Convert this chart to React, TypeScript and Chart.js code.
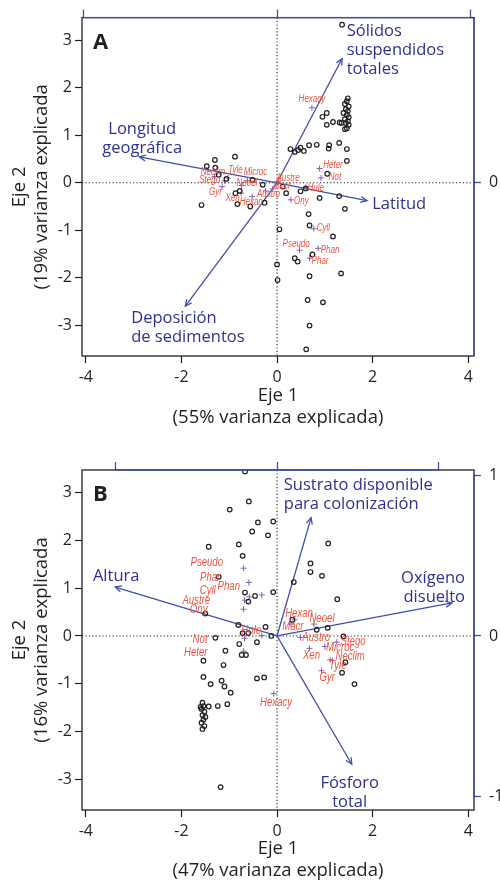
import React, { useEffect, useRef } from 'react';
import { Chart, registerables } from 'chart.js';

Chart.register(...registerables);

// ---------------- DATA ----------------
// Main axes ranges (site / species scores)
const X_RANGE: [number, number] = [-4.08, 4.12];
const Y_RANGE: [number, number] = [-3.65, 3.48];
const X_STEP = 2;
const Y_STEP = 1;

// Panel A – sites (black circles)
const sitesA: [number, number][] = [
  [1.36, 3.33], [0.95, 1.39], [1.04, 1.47], [1.04, 1.22], [1.17, 1.28], [1.31, 1.27],
  [1.48, 1.78], [1.46, 1.72], [1.42, 1.66], [1.5, 1.61], [1.44, 1.55], [1.48, 1.51], [1.39, 1.47],
  [1.46, 1.43], [1.5, 1.38], [1.42, 1.34], [1.48, 1.3], [1.44, 1.26], [1.5, 1.22], [1.46, 1.15],
  [1.35, 1.26], [1.42, 1.13],
  [0.28, 0.71], [0.37, 0.65], [0.44, 0.69], [0.49, 0.74], [0.56, 0.67], [0.67, 0.79], [0.83, 0.8],
  [1.09, 0.79], [1.08, 0.72], [1.3, 0.84], [1.46, 0.71], [1.46, 0.46], [1.05, 0.19],
  [-1.3, 0.48], [-0.88, 0.55], [-1.47, 0.35], [-1.29, 0.32], [-1.22, 0.17], [-1.06, 0.08],
  [-0.51, 0.06], [-0.3, -0.04], [-0.78, -0.17], [-0.87, -0.22], [-0.83, -0.45], [-0.56, -0.5],
  [-0.26, -0.42], [-1.58, -0.47],
  [0.12, -0.08], [0.19, -0.22], [0.49, -0.18], [0.6, -0.12], [0.89, -0.32], [1.3, -0.28],
  [1.42, -0.55], [0.66, -0.66], [0.05, -0.98], [0.68, -0.9], [1.17, -1.13], [0.37, -1.59],
  [0.43, -1.66], [0.74, -1.51], [0.0, -1.72], [0.01, -2.05], [0.68, -1.97], [1.34, -1.91],
  [0.64, -2.47], [0.96, -2.52], [0.68, -3.01], [0.61, -3.51],
];

// Panel A – species (purple crosses) and their label anchors
const speciesNamesA = ['Heter', 'Not', 'Hule', 'Ony', 'Cyll', 'Pseudo', 'Phan', 'Phar', 'Austre', 'Macr',
  'Austro', 'Neoel', 'Tyle', 'Microc', 'Neclim', 'Stego', 'Gyr', 'Xen', 'Hexan', 'Hexacy'];
const speciesPosA: [number, number][] = [
  [0.89, 0.3], [0.92, 0.1], [0.6, -0.1], [0.29, -0.36], [0.77, -0.97], [0.47, -1.42], [0.86, -1.38],
  [0.68, -1.59], [0.03, 0.02], [-0.09, -0.13], [-0.24, -0.17], [-0.74, -0.06], [-1.03, 0.1],
  [-0.62, 0.04], [-1.31, 0.13], [-1.1, 0.04], [-1.15, -0.08], [-0.75, -0.22], [-0.52, -0.29], [0.73, 1.58],
];
const speciesLabelPosA: [number, number][] = [
  [1.17, 0.37], [1.21, 0.11], [0.81, -0.12], [0.51, -0.39], [0.97, -0.96], [0.4, -1.29], [1.11, -1.43],
  [0.9, -1.66], [0.23, 0.1], [0.1, -0.08], [-0.18, -0.25], [-0.63, -0.01], [-0.87, 0.27],
  [-0.45, 0.22], [-1.34, 0.22], [-1.41, 0.06], [-1.29, -0.2], [-0.93, -0.32], [-0.54, -0.41], [0.73, 1.76],
];

// Panel A – environmental vectors (loading units, top/right axes)
const arrowLabelsA: string[][] = [
  ['Sólidos', 'suspendidos', 'totales'],
  ['Longitud', 'geográfica'],
  ['Latitud'],
  ['Deposición', 'de sedimentos'],
];
const arrowEndsA: [number, number][] = [[0.336, 0.646], [-0.712, 0.135], [0.465, -0.093], [-0.474, -0.642]];
const arrowLabelPosA: [number, number][] = [[0.36, 0.791], [-0.697, 0.28], [0.492, -0.114], [-0.754, -0.705]];
const LOAD_FACTOR_A = 4.046;

// Panel B – sites
const sitesB: [number, number][] = [
  [-0.67, 3.45], [-0.59, 2.82], [-0.99, 2.65], [-0.4, 2.38], [-0.08, 2.4], [-0.52, 2.19], [-0.19, 2.11],
  [-1.43, 1.87], [-0.8, 1.92], [1.07, 1.94], [-0.72, 1.68], [-1.22, 1.24], [0.7, 1.52], [0.7, 1.34],
  [0.94, 1.26], [0.35, 1.13], [1.26, 0.77], [-0.67, 0.91], [-0.46, 0.84], [-0.08, 0.92], [-0.6, 0.72],
  [-1.5, 0.47], [-0.81, 0.23], [-0.24, 0.19], [0.32, 0.34], [-0.72, 0.06], [-0.6, 0.06], [-1.29, -0.04],
  [-0.79, -0.17], [-0.42, -0.13], [0.83, 0.13], [1.06, 0.17], [1.39, -0.01], [-1.08, -0.31],
  [-0.74, -0.4], [-0.65, -0.4], [-1.54, -0.52], [-1.12, -0.61], [-1.54, -0.86], [-1.39, -1.01],
  [-1.16, -0.94], [-1.1, -1.06], [-0.97, -1.19], [-0.42, -0.89], [-0.27, -0.87], [1.43, -0.55],
  [1.36, -0.77], [1.62, -1.01], [-1.43, -1.48], [-1.24, -1.47], [-1.04, -1.43],
  [-1.56, -1.4], [-1.54, -1.47], [-1.58, -1.53], [-1.52, -1.59], [-1.56, -1.66], [-1.5, -1.7],
  [-1.54, -1.76], [-1.58, -1.82], [-1.52, -1.89], [-1.56, -1.95], [-1.6, -1.49], [-1.18, -3.17], [-0.12, 0.0],
];

const speciesNamesB = ['Pseudo', 'Phar', 'Phan', 'Cyll', 'Austre', 'Ony', 'Hule', 'Not', 'Heter', 'Hexacy',
  'Hexan', 'Macr', 'Neoel', 'Austro', 'Stego', 'Microc', 'Xen', 'Neclim', 'Tyle', 'Gyr'];
const speciesPosB: [number, number][] = [
  [-0.7, 1.42], [-0.59, 1.12], [-0.32, 0.86], [-0.58, 0.82], [-0.68, 0.75], [-0.7, 0.56], [-0.32, 0.01],
  [-0.68, -0.05], [-0.7, -0.32], [-0.07, -1.21], [0.37, 0.34], [0.29, 0.25], [0.77, 0.25], [0.49, -0.03],
  [1.25, -0.13], [1.0, -0.22], [0.68, -0.26], [1.11, -0.5], [1.16, -0.52], [0.93, -0.73],
];
const speciesLabelPosB: [number, number][] = [
  [-1.47, 1.53], [-1.4, 1.23], [-1.01, 1.03], [-1.45, 0.96], [-1.69, 0.75], [-1.64, 0.55], [-0.54, 0.11],
  [-1.61, -0.08], [-1.7, -0.34], [-0.02, -1.4], [0.46, 0.46], [0.33, 0.2], [0.94, 0.36], [0.82, -0.03],
  [1.59, -0.12], [1.32, -0.25], [0.72, -0.41], [1.53, -0.43], [1.27, -0.63], [1.05, -0.87],
];

const arrowLabelsB: string[][] = [
  ['Sustrato disponible', 'para colonización'],
  ['Altura'],
  ['Oxígeno', 'disuelto'],
  ['Fósforo', 'total'],
];
const arrowEndsB: [number, number][] = [[0.211, 0.735], [-1.003, 0.304], [1.084, 0.205], [0.463, -0.797]];
const arrowLabelPosB: [number, number][] = [[0.042, 0.938], [-0.997, 0.372], [1.165, 0.36], [0.45, -0.913]];
const LOAD_FACTOR_B = 3.375;

// ---------------- STYLE ----------------
const INK = '#231f20';
const BLUE = '#3d4fb0';
const BLUE_TEXT = '#2e3192';
const RED = '#f0523e';
const PURPLE = '#8b5bb6';
const SANS = "'Open Sans', 'DejaVu Sans', sans-serif";

interface PanelSpec {
  letter: string;
  sites: [number, number][];
  speciesNames: string[];
  speciesPos: [number, number][];
  speciesLabelPos: [number, number][];
  arrowLabels: string[][];
  arrowEnds: [number, number][];
  arrowLabelPos: [number, number][];
  arrowAlign: CanvasTextAlign[];
  loadFactor: number;
  xTitle: string[];
  yTitle: string[];
  topH: number;
  bottomH: number;
  xTitlePadBottom: number;
  speciesFont: number;
}

const panelA: PanelSpec = {
  letter: 'A',
  sites: sitesA,
  speciesNames: speciesNamesA,
  speciesPos: speciesPosA,
  speciesLabelPos: speciesLabelPosA,
  arrowLabels: arrowLabelsA,
  arrowEnds: arrowEndsA,
  arrowLabelPos: arrowLabelPosA,
  arrowAlign: ['left', 'center', 'left', 'left'],
  loadFactor: LOAD_FACTOR_A,
  xTitle: ['Eje 1', '(55% varianza explicada)'],
  yTitle: ['Eje 2', '(19% varianza explicada'],
  topH: 16,
  bottomH: 85,
  xTitlePadBottom: 12,
  speciesFont: 10,
};

const panelB: PanelSpec = {
  letter: 'B',
  sites: sitesB,
  speciesNames: speciesNamesB,
  speciesPos: speciesPosB,
  speciesLabelPos: speciesLabelPosB,
  arrowLabels: arrowLabelsB,
  arrowEnds: arrowEndsB,
  arrowLabelPos: arrowLabelPosB,
  arrowAlign: ['left', 'center', 'right', 'center'],
  loadFactor: LOAD_FACTOR_B,
  xTitle: ['Eje 1', '(47% varianza explicada)'],
  yTitle: ['Eje 2', '(16% varianza explicada'],
  topH: 29,
  bottomH: 72,
  xTitlePadBottom: 0,
  speciesFont: 12,
};

function biplotPlugin(spec: PanelSpec, arrowStart: number) {
  return {
    id: 'biplot' + spec.letter,
    beforeDatasetsDraw(chart: any) {
      const { ctx, chartArea: a, scales } = chart;
      const x0 = scales.x.getPixelForValue(0);
      const y0 = scales.y.getPixelForValue(0);
      ctx.save();
      ctx.strokeStyle = INK;
      ctx.lineWidth = 1.1;
      ctx.setLineDash([1.2, 2.2]);
      ctx.beginPath();
      ctx.moveTo(x0, a.top);
      ctx.lineTo(x0, a.bottom);
      ctx.moveTo(a.left, y0);
      ctx.lineTo(a.right, y0);
      ctx.stroke();
      ctx.restore();
    },
    afterDatasetsDraw(chart: any) {
      const { ctx, chartArea: a, scales } = chart;
      ctx.save();
      // frame
      ctx.strokeStyle = INK;
      ctx.lineWidth = 1.3;
      ctx.strokeRect(a.left, a.top, a.right - a.left, a.bottom - a.top);
      // secondary (loading) axes lines in blue
      ctx.strokeStyle = BLUE;
      ctx.lineWidth = 1.3;
      const seg = (sc: any, horiz: boolean) => {
        const vals = sc.ticks.map((t: any) => t.value);
        let p1: number, p2: number;
        if (vals.length > 1) {
          p1 = sc.getPixelForValue(Math.min(...vals));
          p2 = sc.getPixelForValue(Math.max(...vals));
        } else {
          p1 = horiz ? a.left : a.top;
          p2 = horiz ? a.right : a.bottom;
        }
        ctx.beginPath();
        if (horiz) {
          ctx.moveTo(p1, a.top);
          ctx.lineTo(p2, a.top);
        } else {
          ctx.moveTo(a.right, p1);
          ctx.lineTo(a.right, p2);
        }
        ctx.stroke();
      };
      seg(scales.x2, true);
      seg(scales.y2, false);

      // arrowheads
      ctx.strokeStyle = BLUE;
      ctx.lineWidth = 1.3;
      for (let i = 0; i < spec.arrowEnds.length; i++) {
        const meta = chart.getDatasetMeta(arrowStart + i);
        const p0 = meta.data[0];
        const p1 = meta.data[1];
        const ang = Math.atan2(p1.y - p0.y, p1.x - p0.x);
        const L = 7;
        ctx.beginPath();
        ctx.moveTo(p1.x - L * Math.cos(ang - Math.PI / 7), p1.y - L * Math.sin(ang - Math.PI / 7));
        ctx.lineTo(p1.x, p1.y);
        ctx.lineTo(p1.x - L * Math.cos(ang + Math.PI / 7), p1.y - L * Math.sin(ang + Math.PI / 7));
        ctx.stroke();
      }

      // arrow labels
      ctx.fillStyle = BLUE_TEXT;
      ctx.font = `16.5px ${SANS}`;
      ctx.textBaseline = 'middle';
      spec.arrowLabels.forEach((lines, i) => {
        const [lx, ly] = spec.arrowLabelPos[i];
        const px = scales.x2.getPixelForValue(lx);
        const py = scales.y2.getPixelForValue(ly);
        ctx.textAlign = spec.arrowAlign[i];
        lines.forEach((t, j) => ctx.fillText(t, px, py + j * 19));
      });

      // species labels (red italic, condensed)
      ctx.fillStyle = RED;
      ctx.font = `italic ${spec.speciesFont}px 'Liberation Sans', Arial, sans-serif`;
      ctx.textAlign = 'center';
      ctx.textBaseline = 'middle';
      spec.speciesNames.forEach((n, i) => {
        const [lx, ly] = spec.speciesLabelPos[i];
        const px = scales.x.getPixelForValue(lx);
        const py = scales.y.getPixelForValue(ly);
        ctx.save();
        ctx.translate(px, py);
        ctx.scale(0.8, 1);
        ctx.fillText(n, 0, 0);
        ctx.restore();
      });

      // panel letter
      ctx.fillStyle = INK;
      ctx.font = `bold 22px ${SANS}`;
      ctx.textAlign = 'left';
      ctx.textBaseline = 'alphabetic';
      ctx.fillText(spec.letter, a.left + 11, a.top + 31);
      ctx.restore();
    },
  };
}

function buildConfig(spec: PanelSpec): any {
  const k = spec.loadFactor;
  const tickFont = { family: SANS, size: 16 };
  const titleFont = { family: SANS, size: 18.5, lineHeight: '22px' };
  const datasets: any[] = [
    {
      label: 'sites',
      data: spec.sites.map(([x, y]) => ({ x, y })),
      pointStyle: 'circle',
      pointRadius: 2.3,
      pointBorderWidth: 1.2,
      pointBorderColor: INK,
      pointBackgroundColor: 'rgba(255,255,255,0)',
      showLine: false,
    },
    {
      label: 'species',
      data: spec.speciesPos.map(([x, y]) => ({ x, y })),
      pointStyle: 'cross',
      pointRadius: 3,
      pointBorderWidth: 1,
      pointBorderColor: PURPLE,
      showLine: false,
    },
  ];
  const arrowStart = datasets.length;
  spec.arrowEnds.forEach(([ex, ey], i) => {
    datasets.push({
      label: spec.arrowLabels[i].join(' '),
      data: [{ x: 0, y: 0 }, { x: ex, y: ey }],
      xAxisID: 'x2',
      yAxisID: 'y2',
      showLine: true,
      borderColor: BLUE,
      borderWidth: 1.3,
      pointRadius: 0,
      fill: false,
    });
  });

  return {
    type: 'scatter',
    data: { datasets },
    options: {
      responsive: false,
      animation: false,
      events: [],
      layout: { padding: 0 },
      plugins: { legend: { display: false }, tooltip: { enabled: false } },
      scales: {
        x: {
          type: 'linear',
          position: 'bottom',
          min: X_RANGE[0],
          max: X_RANGE[1],
          ticks: { stepSize: X_STEP, includeBounds: false, color: INK, font: tickFont, padding: 5, maxRotation: 0 },
          grid: { drawOnChartArea: false, tickLength: 7, tickColor: INK, tickWidth: 1.2 },
          border: { display: false },
          title: {
            display: true,
            text: spec.xTitle,
            color: INK,
            font: titleFont,
            padding: { top: 0, bottom: spec.xTitlePadBottom },
          },
          afterFit: (s: any) => { s.height = spec.bottomH; },
        },
        y: {
          type: 'linear',
          position: 'left',
          min: Y_RANGE[0],
          max: Y_RANGE[1],
          ticks: { stepSize: Y_STEP, includeBounds: false, color: INK, font: tickFont, padding: 3 },
          grid: { drawOnChartArea: false, tickLength: 7, tickColor: INK, tickWidth: 1.2 },
          border: { display: false },
          title: {
            display: true,
            text: spec.yTitle,
            color: INK,
            font: titleFont,
            padding: { top: 9, bottom: 0 },
          },
          afterFit: (s: any) => { s.width = 82; },
        },
        x2: {
          type: 'linear',
          position: 'top',
          min: X_RANGE[0] / k,
          max: X_RANGE[1] / k,
          ticks: { stepSize: 1, includeBounds: false, display: false },
          grid: { drawOnChartArea: false, tickLength: 8, tickColor: BLUE, tickWidth: 1.3 },
          border: { display: false },
          afterFit: (s: any) => { s.height = spec.topH; },
        },
        y2: {
          type: 'linear',
          position: 'right',
          min: Y_RANGE[0] / k,
          max: Y_RANGE[1] / k,
          ticks: { stepSize: 1, includeBounds: false, color: INK, font: tickFont, padding: 8 },
          grid: { drawOnChartArea: false, tickLength: 7, tickColor: BLUE, tickWidth: 1.3 },
          border: { display: false },
          afterFit: (s: any) => { s.width = 26; },
        },
      },
    },
    plugins: [biplotPlugin(spec, arrowStart)],
  };
}

function Panel({ spec }: { spec: PanelSpec }) {
  const ref = useRef<HTMLCanvasElement>(null);
  useEffect(() => {
    if (!ref.current) return;
    const chart = new Chart(ref.current, buildConfig(spec));
    return () => chart.destroy();
  }, [spec]);
  return (
    <canvas
      ref={ref}
      width={500}
      height={441}
      style={{ display: 'block', width: 500, height: 441 }}
    />
  );
}

export default function App() {
  useEffect(() => {
    document.body.style.margin = '0';
  }, []);
  return (
    <div style={{ width: 500, height: 882, background: '#ffffff', overflow: 'hidden' }}>
      <Panel spec={panelA} />
      <Panel spec={panelB} />
    </div>
  );
}
